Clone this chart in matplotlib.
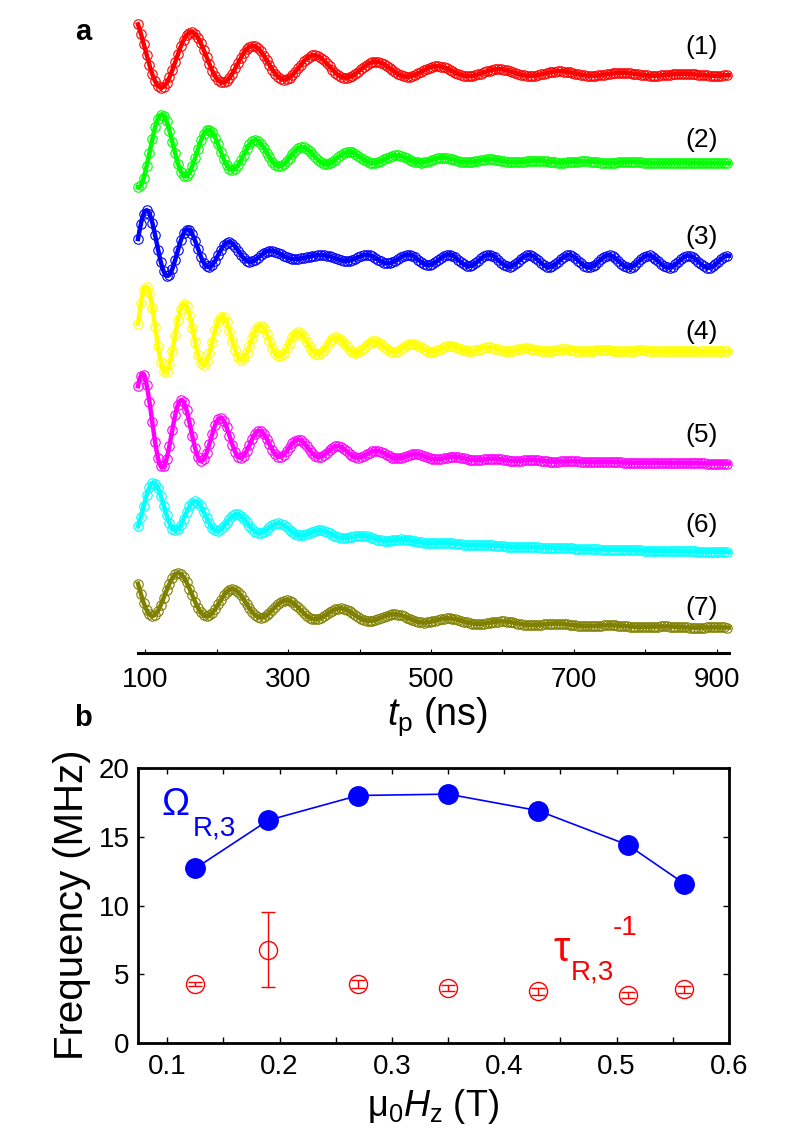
import numpy as np
import matplotlib
matplotlib.use('Agg')
import matplotlib.pyplot as plt
from matplotlib import font_manager

names = {f.name for f in font_manager.fontManager.ttflist}
fam = 'Liberation Sans Narrow' if 'Liberation Sans Narrow' in names else 'Liberation Sans'
plt.rcParams['font.family'] = [fam, 'DejaVu Sans']
plt.rcParams['mathtext.fontset'] = 'custom'
plt.rcParams['mathtext.rm'] = fam
plt.rcParams['mathtext.it'] = fam + ':italic'

# ---- panel a : Rabi traces, fitted parameters ----
trace_names = ['(1)', '(2)', '(3)', '(4)', '(5)', '(6)', '(7)']
trace_colors = ['#ff0000', '#00ff00', '#0000ff', '#ffff00', '#ff00ff', '#00ffff', '#808000']
t_start, t_stop = 90, 917
offset = [577, 489, 391, 301, 188, 98, 23]        # level at long t_p
drift = [22.6, 17.5, 16, 20, 41, 50, 42]          # extra level at t_p = 100 ns
drift_tau = [260, 280, 200, 240, 240, 290, 280]   # ns
amp = [36, 39, 41, 46, 48, 27, 28]                # oscillation amplitude at 100 ns
amp_tau = [210, 150, 132, 155, 125, 115, 175]     # ns
freq = [11.63, 15.24, 17.3, 18.8, 18.3, 17.1, 13.2]  # MHz
peak_t = [166, 124, 104, 102, 97, 113, 148]       # ns, one maximum
beat_amp = [0, 0, 6, 0, 0, 0, 0]
beat_freq = [0, 0, 18.0, 0, 0, 0, 0]
beat_peak_t = [0, 0, 527, 0, 0, 0, 0]
label_y = [47, 140, 237, 332, 435, 525, 608]      # pixel rows of the labels

# ---- panel b ----
field = [0.125, 0.19, 0.27, 0.35, 0.43, 0.51, 0.56]
omega = [12.7, 16.2, 18.0, 18.1, 16.9, 14.4, 11.6]
tau_inv = [4.3, 6.8, 4.3, 4.0, 3.75, 3.5, 3.9]
tau_err = [0.15, 2.75, 0.3, 0.25, 0.25, 0.2, 0.25]

fig = plt.figure(figsize=(7.95, 11.36), dpi=100)
ax = fig.add_axes([138/795, 1 - 653/1136, 591/795, 643/1136])

def trace(i, t):
    s = t - 100.0
    y = offset[i] + drift[i]*np.exp(-s/drift_tau[i])
    y = y + amp[i]*np.exp(-s/amp_tau[i])*np.cos(2*np.pi*freq[i]*(t - peak_t[i])/1000)
    y = y + beat_amp[i]*np.cos(2*np.pi*beat_freq[i]*(t - beat_peak_t[i])/1000)
    return y

t_fit = np.linspace(t_start, t_stop, 1200)
t_pts = np.arange(t_start, t_stop, 4.0)
for i in range(len(trace_names)):
    c = trace_colors[i]
    ax.plot(t_pts, trace(i, t_pts), 'o', ms=6.8, mfc='none', mec=c, mew=0.8, clip_on=False)
    ax.plot(t_fit, trace(i, t_fit), '-', color=c, lw=3.2, clip_on=False)
    ax.text(0.954, (653 - label_y[i])/643, trace_names[i], transform=ax.transAxes,
            ha='center', va='center', fontsize=19)

ax.set_xlim(t_start, t_stop)
ax.set_ylim(0, 643)
for sp in ['top', 'left', 'right']:
    ax.spines[sp].set_visible(False)
ax.spines['bottom'].set_linewidth(2.2)
ax.set_yticks([])
ax.set_xticks([100, 300, 500, 700, 900])
ax.set_xticks([200, 400, 600, 800], minor=True)
ax.tick_params(axis='x', which='both', direction='in', length=3, width=0.8, pad=10, labelsize=20)
ax.patch.set_alpha(0)
fig.text(437/795, 1 - 725/1136, r'$\mathit{t}_{\mathrm{p}}\ \mathrm{(ns)}$', ha='center', va='baseline', fontsize=27)
fig.text(83/795, 1 - 32/1136, 'a', ha='center', va='center', fontsize=21, fontweight='bold')

# ---- panel b ----
bx = fig.add_axes([138/795, 1 - 1043/1136, 591/795, 275/1136])
bx.plot(field, omega, '-', color='#0000ff', lw=1.2)
bx.plot(field, omega, 'o', color='#0000ff', ms=14)
bx.errorbar(field, tau_inv, yerr=tau_err, fmt='o', ms=13, mfc='none', mec='#ff0000',
            mew=1.0, ecolor='#ff0000', elinewidth=1.0, capsize=5, capthick=1.0)
bx.set_xlim(0.074, 0.6)
bx.set_ylim(0, 20)
bx.set_xticks([0.1, 0.2, 0.3, 0.4, 0.5, 0.6])
bx.set_xticks(np.arange(0.1, 0.6, 0.1) + 0.05, minor=True)
bx.set_yticks([0, 5, 10, 15, 20])
bx.tick_params(which='both', direction='in', top=True, right=True, length=4, width=1)
bx.tick_params(axis='x', pad=8, labelsize=20)
bx.tick_params(axis='y', pad=6, labelsize=20)
for sp in bx.spines.values():
    sp.set_linewidth(2)

bx.text(0.064, 0.865, 'Ω', transform=bx.transAxes, color='#0000ff', fontsize=27, ha='center', va='center')
bx.text(0.093, 0.78, 'R,3', transform=bx.transAxes, color='#0000ff', fontsize=20, ha='left', va='center')
bx.text(0.716, 0.338, 'τ', transform=bx.transAxes, color='#ff0000', fontsize=30, ha='center', va='center')
bx.text(0.733, 0.255, 'R,3', transform=bx.transAxes, color='#ff0000', fontsize=20, ha='left', va='center')
bx.text(0.804, 0.418, '-1', transform=bx.transAxes, color='#ff0000', fontsize=20, ha='left', va='center')

fig.text(72/795, 1 - 905/1136, 'Frequency (MHz)', rotation=90, ha='center', va='center', fontsize=29)
fig.text(433/795, 1 - 1107/1136, r'$\mathrm{\mu}_{\mathrm{0}}\mathit{H}_{\mathrm{z}}\ \mathrm{(T)}$',
         ha='center', va='center', fontsize=26)
fig.text(83/795, 1 - 718/1136, 'b', ha='center', va='center', fontsize=21, fontweight='bold')

fig.savefig('out.png', dpi=100)
